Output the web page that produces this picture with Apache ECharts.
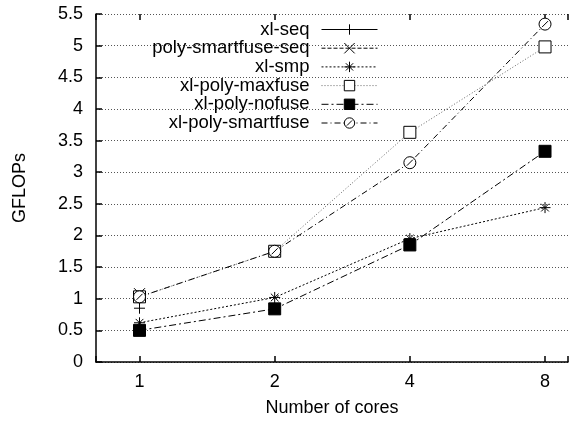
<!DOCTYPE html>
<html><head><meta charset="utf-8">
<script src="https://cdn.jsdelivr.net/npm/echarts@6/dist/echarts.min.js"></script>
<style>html,body{margin:0;padding:0;background:#fff}#c{width:571px;height:424px}</style>
</head><body><div id="c"></div>
<script>
const cores = [1, 2, 4, 8];
const xlSeq = [0.85];
const polySmartfuseSeq = [1.08];
const xlSmp = [0.62, 1.02, 1.95, 2.44];
const xlPolyMaxfuse = [1.03, 1.75, 3.63, 4.98];
const xlPolyNofuse = [0.50, 0.84, 1.85, 3.33];
const xlPolySmartfuse = [1.03, 1.75, 3.15, 5.34];
const seriesNames = ['xl-seq','poly-smartfuse-seq','xl-smp','xl-poly-maxfuse','xl-poly-nofuse','xl-poly-smartfuse'];
const yTicks = [0,0.5,1,1.5,2,2.5,3,3.5,4,4.5,5,5.5];

const FONT = 'Liberation Sans';
const pair = arr => arr.map((v,i)=>[cores[i], v]);

const SYM_PLUS = 'path://M5,0L5,10M0,5L10,5';
const SYM_X = 'path://M0,0L10,10M0,10L10,0';
const SYM_STAR = 'path://M5,0L5,10M0,5L10,5M1.5,1.5L8.5,8.5M1.5,8.5L8.5,1.5';
const SYM_CIRC = 'path://M0,5A5,5,0,1,1,10,5A5,5,0,1,1,0,5ZM2.5,7.5L7.5,2.5';

function mk(name, data, symbol, size, fill, lineType, lineColor){
  return {
    name, type:'line', data: pair(data), symbol, symbolSize:size, symbolKeepAspect:true,
    showSymbol:true,
    itemStyle:{color:fill, borderColor:'#000', borderWidth:1},
    lineStyle:{color:lineColor||'#000', width:1, type:lineType},
    emphasis:{disabled:true}, animation:false, z:3
  };
}

const series = [
  mk(seriesNames[0], xlSeq, SYM_PLUS, 11, '#000', 'solid'),
  mk(seriesNames[1], polySmartfuseSeq, SYM_X, 11, '#000', [4,2]),
  mk(seriesNames[2], xlSmp, SYM_STAR, 11, '#000', [2,2]),
  mk(seriesNames[3], xlPolyMaxfuse, 'rect', 12, '#fff', [1,2], '#666'),
  mk(seriesNames[4], xlPolyNofuse, 'rect', 12, '#000', [7,3,2,3]),
  mk(seriesNames[5], xlPolySmartfuse, SYM_CIRC, 12, '#fff', [6,3,1,3]),
];

const legends = seriesNames.map((n,i)=>({
  data:[n], orient:'vertical', align:'right', right:193, top: 20 + i*18.7,
  itemWidth:56, itemHeight:13, itemGap:0, padding:0,
  itemStyle:{borderWidth:1},
  lineStyle:{width:1},
  textStyle:{fontFamily:FONT, fontSize:18.5, color:'#000', padding:[0,7,0,0]},
  selectedMode:false
}));

const xCommon = {
  type:'log', logBase:2, min:0.8, max:9,
  splitLine:{show:false}, minorTick:{show:false}
};

const chart = echarts.init(document.getElementById('c'), null, {renderer:'canvas'});
chart.setOption({
  animation:false,
  backgroundColor:'#fff',
  grid:{left:96, right:0, top:14, bottom:62, containLabel:false},
  legend: legends,
  xAxis:[
    Object.assign({}, xCommon, {
      position:'bottom',
      name:'Number of cores', nameLocation:'middle', nameGap:37,
      nameTextStyle:{fontFamily:FONT, fontSize:18, color:'#000'},
      axisLine:{show:true, lineStyle:{color:'#000', width:1.5}},
      axisTick:{show:true, inside:true, length:6, lineStyle:{color:'#000', width:1.5}},
      axisLabel:{fontFamily:FONT, fontSize:18, color:'#000', margin:11,
        formatter: v => cores.includes(Math.round(v*1000)/1000) ? String(Math.round(v)) : ''}
    }),
    Object.assign({}, xCommon, {
      position:'top',
      axisLine:{show:false},
      axisTick:{show:true, inside:true, length:6, lineStyle:{color:'#000', width:1.5}},
      axisLabel:{show:false}
    })
  ],
  yAxis:{
    type:'value', min:0, max:5.5, interval:0.5,
    name:'GFLOPs', nameLocation:'middle', nameGap:67, nameRotate:90,
    nameTextStyle:{fontFamily:FONT, fontSize:18, color:'#000'},
    axisLine:{show:true, lineStyle:{color:'#000', width:1.5}},
    axisTick:{show:true, inside:true, length:6, lineStyle:{color:'#000', width:1.5}},
    axisLabel:{fontFamily:FONT, fontSize:18, color:'#000', margin:13,
      formatter: v => { const t = yTicks.find(y=>Math.abs(y-v)<1e-6); return t===undefined?'':String(t); }},
    splitLine:{show:true, lineStyle:{color:'#555', width:1, type:[1,2]}}
  },
  series
});
</script></body></html>
